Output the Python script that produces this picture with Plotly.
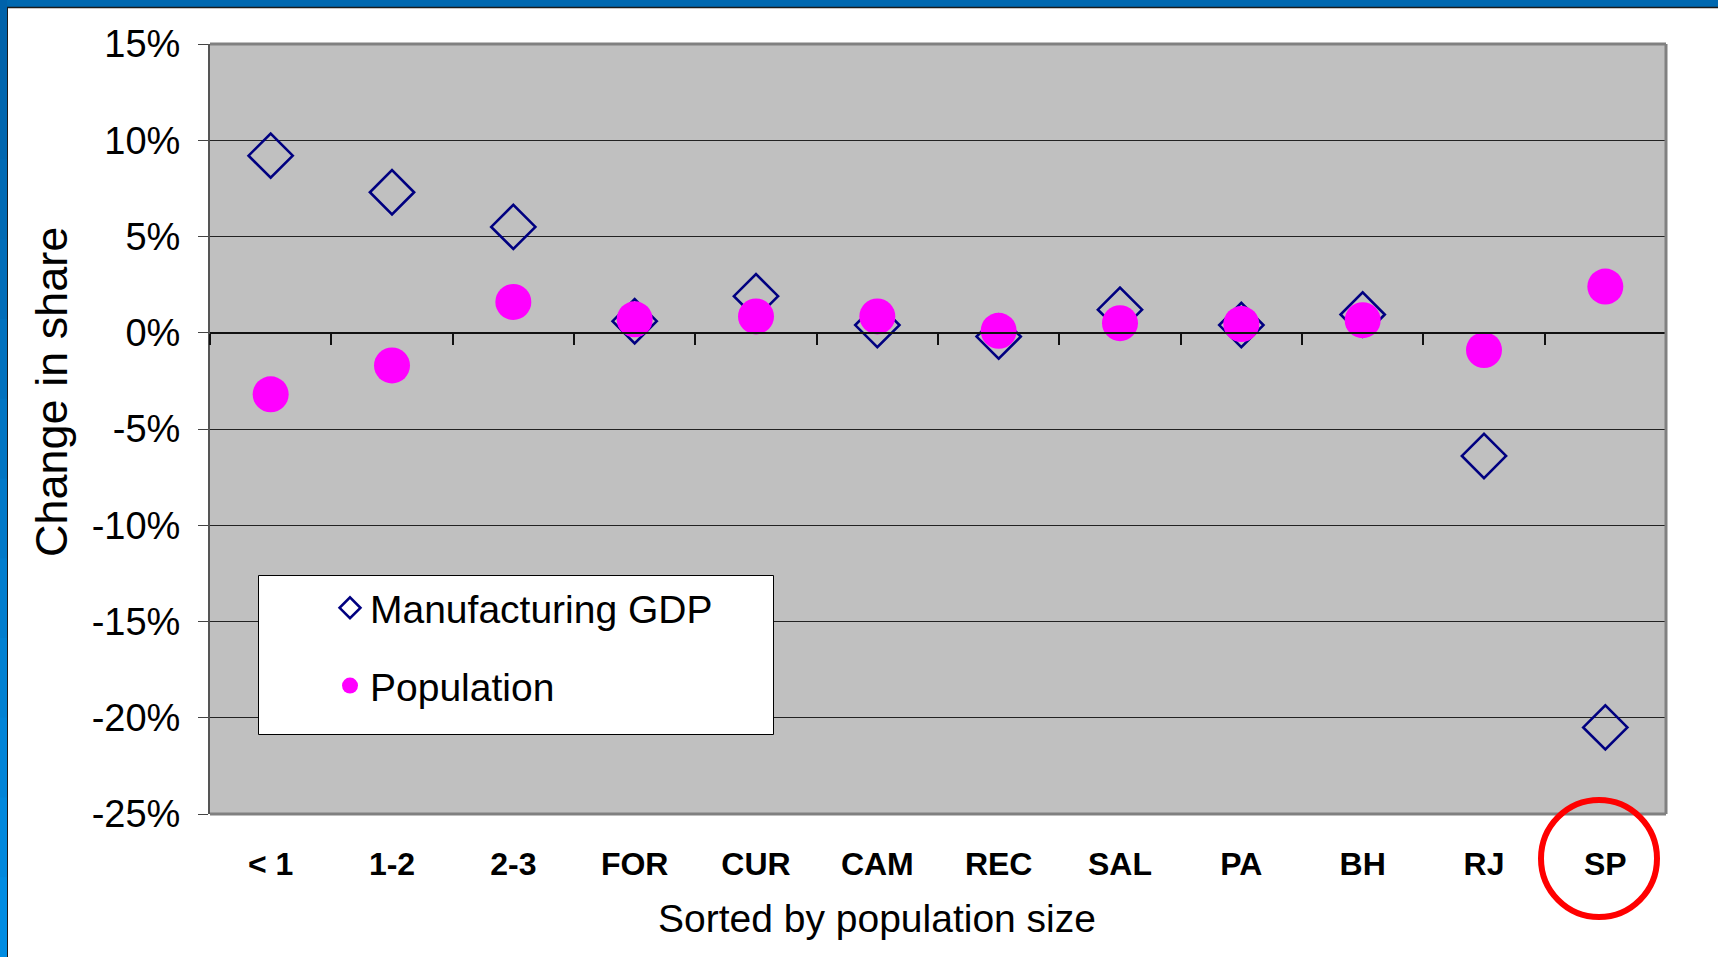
import plotly.graph_objects as go

categories = ["< 1", "1-2", "2-3", "FOR", "CUR", "CAM", "REC", "SAL", "PA", "BH", "RJ", "SP"]
manufacturing_gdp = [9.2, 7.3, 5.5, 0.6, 1.9, 0.4, -0.2, 1.2, 0.4, 0.95, -6.4, -20.5]
population = [-3.2, -1.7, 1.6, 0.7, 0.85, 0.85, 0.1, 0.5, 0.45, 0.65, -0.9, 2.4]
y_tick_values = [15, 10, 5, 0, -5, -10, -15, -20, -25]
y_tick_labels = ["15%", "10%", "5%", "0%", "-5%", "-10%", "-15%", "-20%", "-25%"]

W, H = 1718, 957
ML, MR, MT, MB = 210, 52, 44, 143
PW, PH = W - ML - MR, H - MT - MB
Y_MIN, Y_MAX = -25, 15


def px_x(px):
    return (px - ML) / PW


def px_y(py):
    return (H - MB - py) / PH


FONT = "Liberation Sans, Arial, sans-serif"

fig = go.Figure()
fig.add_trace(go.Scatter(
    x=categories, y=manufacturing_gdp, mode="markers", name="Manufacturing GDP",
    legendgroup="a",
    marker=dict(symbol="diamond-open", size=34, color="#000080",
                line=dict(color="#000080", width=2.6)),
))
fig.add_trace(go.Scatter(
    x=categories, y=population, mode="markers", name="Population",
    legendgroup="b",
    marker=dict(symbol="circle", size=36, color="#FF00FF"),
))
# helper axis that draws the category boundary ticks on the 0% line
fig.add_trace(go.Scatter(x=[], y=[], xaxis="x2", yaxis="y", showlegend=False,
                         hoverinfo="skip"))

shapes = []
# plot frame (grey) top, right, bottom
for (x0, y0, x1, y1) in [(0, 1, 1, 1), (1, 0, 1, 1), (0, 0, 1, 0)]:
    shapes.append(dict(type="line", xref="paper", yref="paper", x0=x0, y0=y0,
                       x1=x1, y1=y1, line=dict(color="#808080", width=3),
                       layer="above"))
# legend box
shapes.append(dict(type="rect", xref="paper", yref="paper",
                   x0=px_x(258.5), x1=px_x(773.5), y0=px_y(734.5), y1=px_y(575.5),
                   fillcolor="white", line=dict(color="black", width=1),
                   layer="above"))
# blue slide frame: top bar
shapes.append(dict(type="rect", xref="paper", yref="paper",
                   x0=px_x(0), x1=px_x(W), y0=px_y(7), y1=px_y(0),
                   fillcolor="#0068B0", line=dict(width=0), layer="above"))
shapes.append(dict(type="line", xref="paper", yref="paper",
                   x0=px_x(0), x1=px_x(W), y0=px_y(7.5), y1=px_y(7.5),
                   line=dict(color="#1a1a1a", width=1.5), layer="above"))
# left bar with gradient
n_seg = 12
c_top = (0x00, 0x62, 0xAA)
c_bot = (0x00, 0x8C, 0xE2)
for i in range(n_seg):
    t = i / (n_seg - 1)
    col = "rgb(%d,%d,%d)" % tuple(round(a + (b - a) * t) for a, b in zip(c_top, c_bot))
    shapes.append(dict(type="rect", xref="paper", yref="paper",
                       x0=px_x(0), x1=px_x(7),
                       y0=px_y(H * (i + 1) / n_seg + 1), y1=px_y(H * i / n_seg),
                       fillcolor=col, line=dict(width=0), layer="above"))
shapes.append(dict(type="line", xref="paper", yref="paper",
                   x0=px_x(7.5), x1=px_x(7.5), y0=px_y(H), y1=px_y(7),
                   line=dict(color="#1a1a1a", width=1), layer="above"))
# red highlight circle around SP
shapes.append(dict(type="circle", xref="paper", yref="paper",
                   x0=px_x(1541), x1=px_x(1657), y0=px_y(917), y1=px_y(800),
                   line=dict(color="#FF0000", width=6), layer="above"))

annotations = [
    dict(text="Sorted by population size", xref="paper", yref="paper",
         x=px_x(877), y=px_y(918), showarrow=False, xanchor="center", yanchor="middle",
         font=dict(family=FONT, size=39, color="black")),
    dict(text="Change in share", xref="paper", yref="paper", textangle=-90,
         x=px_x(51), y=px_y(392), showarrow=False, xanchor="center", yanchor="middle",
         font=dict(family=FONT, size=45, color="black")),
]

fig.update_layout(
    width=W, height=H,
    margin=dict(l=ML, r=MR, t=MT, b=MB, pad=0),
    paper_bgcolor="white",
    plot_bgcolor="#C0C0C0",
    font=dict(family=FONT, color="black"),
    showlegend=True,
    legend=dict(x=px_x(330), y=px_y(576), xanchor="left", yanchor="top",
                bgcolor="rgba(0,0,0,0)", borderwidth=0,
                font=dict(family=FONT, size=39, color="black"),
                tracegroupgap=24, itemsizing="trace"),
    xaxis=dict(type="category", categoryorder="array", categoryarray=categories,
               range=[-0.5, len(categories) - 0.5],
               showgrid=False, zeroline=False, showline=False, ticks="",
               tickfont=dict(family=FONT, size=32, color="black", weight="bold"),
               ticklabelstandoff=28),
    xaxis2=dict(overlaying="x", anchor="free",
                position=(0 - Y_MIN) / (Y_MAX - Y_MIN), side="bottom",
                type="linear", range=[-0.5, len(categories) - 0.5],
                tickmode="linear", tick0=-0.5, dtick=1,
                ticks="outside", ticklen=11, tickwidth=1.5, tickcolor="#111111",
                showline=True, linecolor="#111111", linewidth=1.5,
                showgrid=False, zeroline=False, showticklabels=False),
    yaxis=dict(range=[Y_MIN, Y_MAX], tickmode="array", tickvals=y_tick_values,
               ticktext=y_tick_labels, showgrid=True, gridcolor="#222222",
               gridwidth=1.2, zeroline=False, showline=True, linecolor="#555555",
               linewidth=2, ticks="outside", ticklen=10, tickwidth=1.2,
               tickcolor="#444444", ticklabelstandoff=10,
               tickfont=dict(family=FONT, size=38, color="black")),
    shapes=shapes,
    annotations=annotations,
)

fig.write_html("out.html",
               config={"displayModeBar": False},
               post_script="document.body.style.margin='0';document.body.style.overflow='hidden';")
